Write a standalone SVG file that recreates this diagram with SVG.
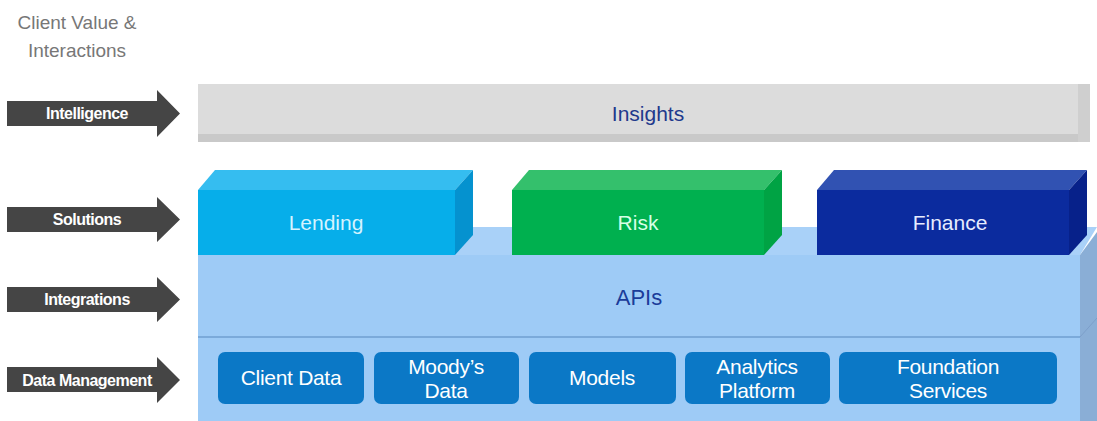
<svg xmlns="http://www.w3.org/2000/svg" width="1097" height="421" viewBox="0 0 1097 421">
<style>
text{font-family:"Liberation Sans",Arial,sans-serif}
.lbl{fill:#fff;font-size:16px;text-anchor:middle;font-weight:bold;letter-spacing:-0.5px}
.arr{fill:#454545}
.box{fill:#0b78c6}
.bt{fill:#fff;font-size:21px;text-anchor:middle;letter-spacing:-0.3px}
</style>
<rect width="1097" height="421" fill="#fff"/>
<g id="title">
<text x="77" y="29" font-size="19" fill="#777" text-anchor="middle">Client Value &amp;</text>
<text x="77" y="57" font-size="19" fill="#777" text-anchor="middle">Interactions</text>
</g>
<g id="connectors">
<path class="arr" d="M7,101 H157 V90 L180,113.5 L157,137 V126 H7 Z"/>
<path class="arr" d="M7,207 H157 V197 L180,219.5 L157,242 V232 H7 Z"/>
<path class="arr" d="M7,287 H157 V277 L180,299.5 L157,322 V312 H7 Z"/>
<path class="arr" d="M7,367 H157 V357 L180,380 L157,403 V392 H7 Z"/>
</g>
<g id="arrow-labels">
<text class="lbl" x="87" y="119">Intelligence</text>
<text class="lbl" x="87" y="225">Solutions</text>
<text class="lbl" x="87" y="305">Integrations</text>
<text class="lbl" x="87" y="386">Data Management</text>
</g>
<g id="insights">
<rect x="198" y="84" width="892" height="58" fill="#dcdcdc"/>
<rect x="198" y="134" width="892" height="8" fill="#c9c9c9"/>
<rect x="1078" y="84" width="12" height="58" fill="#cfcfcf"/>
<text x="648" y="121" font-size="21" fill="#21398c" text-anchor="middle">Insights</text>
</g>
<g id="base">
<polygon points="198,255 217,227 1097,227 1080,255" fill="#a9d1f8"/>
<polygon points="1080,255 1097,232 1097,421 1080,421" fill="#8aaed6"/>
<rect x="198" y="255" width="882" height="166" fill="#9ecbf6"/>
<line x1="198" y1="337" x2="1080" y2="337" stroke="#6f9fd0" stroke-width="1.5"/>
<line x1="1080" y1="337" x2="1097" y2="318" stroke="#7d9fca" stroke-width="1"/>
<text x="639" y="305" font-size="22" fill="#1b3c9a" text-anchor="middle">APIs</text>
</g>
<g id="lending">
<polygon points="198,190 215,170 473,170 455,190" fill="#35bdf0"/>
<polygon points="455,190 473,170 473,235 455,255" fill="#0592cf"/>
<rect x="198" y="190" width="257" height="65" fill="#06aeea"/>
<text x="326" y="230" font-size="21" fill="#d4f3ff" text-anchor="middle">Lending</text>
</g>
<g id="risk">
<polygon points="512,190 529,170 782,170 764,190" fill="#34c06c"/>
<polygon points="764,190 782,170 782,235 764,255" fill="#00a344"/>
<rect x="512" y="190" width="252" height="65" fill="#00b04f"/>
<text x="638" y="230" font-size="21" fill="#d8ffe6" text-anchor="middle">Risk</text>
</g>
<g id="finance">
<polygon points="817,190 834,170 1087,170 1069,190" fill="#3152b2"/>
<polygon points="1069,190 1087,170 1087,235 1069,255" fill="#07218a"/>
<rect x="817" y="190" width="252" height="65" fill="#0b2b9e"/>
<text x="950" y="230" font-size="21" fill="#e6ecff" text-anchor="middle">Finance</text>
</g>
<g id="client-data">
<rect class="box" x="218" y="352" width="146" height="52" rx="7"/>
<text class="bt" x="291" y="385">Client Data</text>
</g>
<g id="moodys-data">
<rect class="box" x="374" y="352" width="145" height="52" rx="7"/>
<text class="bt" x="446" y="374">Moody’s</text>
<text class="bt" x="446" y="398">Data</text>
</g>
<g id="models">
<rect class="box" x="529" y="352" width="147" height="52" rx="7"/>
<text class="bt" x="602" y="385">Models</text>
</g>
<g id="analytics-platform">
<rect class="box" x="685" y="352" width="145" height="52" rx="7"/>
<text class="bt" x="757" y="374">Analytics</text>
<text class="bt" x="757" y="398">Platform</text>
</g>
<g id="foundation-services">
<rect class="box" x="839" y="352" width="218" height="52" rx="7"/>
<text class="bt" x="948" y="374">Foundation</text>
<text class="bt" x="948" y="398">Services</text>
</g>
</svg>
